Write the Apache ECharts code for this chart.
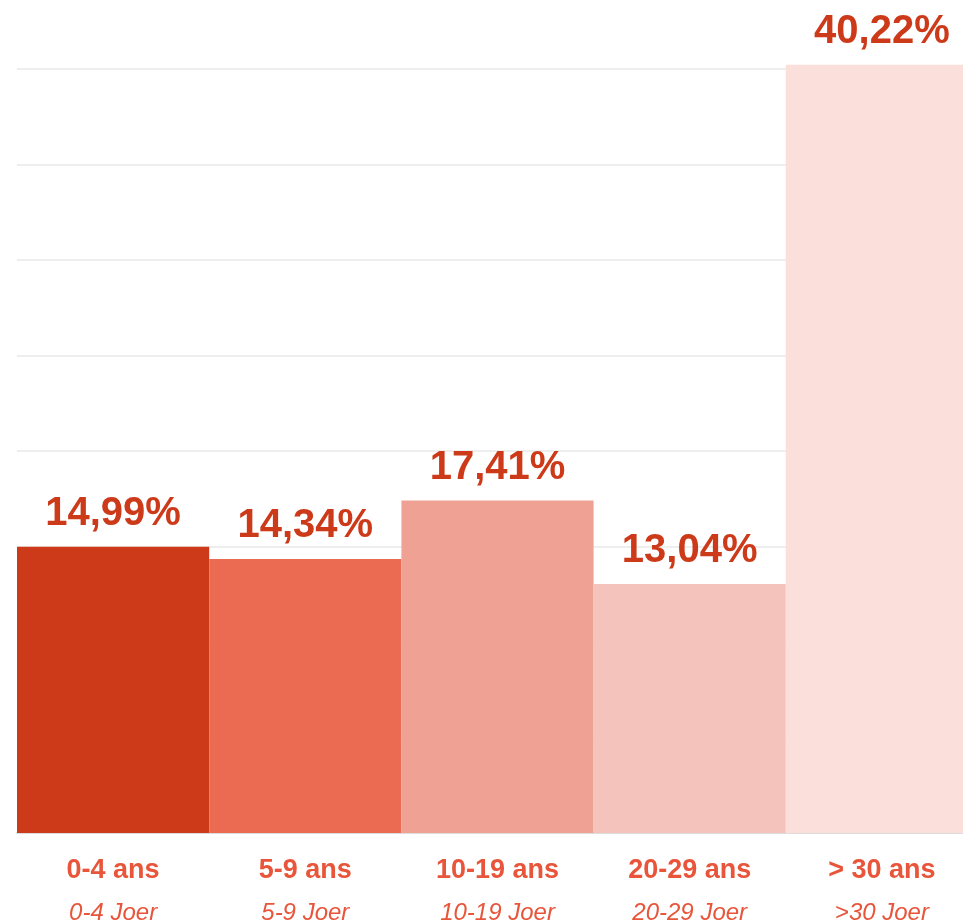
<!DOCTYPE html>
<html>
<head>
<meta charset="utf-8">
<script src="https://cdn.jsdelivr.net/npm/echarts@6/dist/echarts.min.js"></script>
<style>
  html, body { margin: 0; padding: 0; background: #fff; }
  #main { width: 963px; height: 924px; }
</style>
</head>
<body>
<div id="main"></div>
<script>
var categories = ["0-4 ans", "5-9 ans", "10-19 ans", "20-29 ans", "> 30 ans"];
var subLabels = ["0-4 Joer", "5-9 Joer", "10-19 Joer", "20-29 Joer", ">30 Joer"];
var values = [14.99, 14.34, 17.41, 13.04, 40.22];
var barColors = ["#cc3a1a", "#ea6b51", "#efa293", "#f4c3bb", "#fadfdb"];

var myChart = echarts.init(document.getElementById("main"));

myChart.setOption({
  animation: false,
  grid: {
    left: 17,
    top: 69,
    right: -15,
    height: 764,
    outerBoundsMode: "none",
    containLabel: false
  },
  xAxis: {
    type: "category",
    data: categories,
    axisTick: { show: false },
    axisLine: {
      show: true,
      lineStyle: { color: "#dcdcdc", width: 2 }
    },
    axisLabel: {
      interval: 0,
      margin: 16,
      formatter: function (v, i) {
        return "{a|" + v + "}\n{b|" + subLabels[i] + "}";
      },
      rich: {
        a: {
          fontFamily: "Liberation Sans",
          fontWeight: "bold",
          fontSize: 27,
          color: "#e8553a",
          lineHeight: 43
        },
        b: {
          fontFamily: "Liberation Sans",
          fontStyle: "italic",
          fontSize: 24,
          color: "#e8553a",
          lineHeight: 43
        }
      }
    }
  },
  yAxis: {
    type: "value",
    min: 0,
    max: 40,
    interval: 5,
    axisLabel: { show: false },
    axisLine: { show: false },
    axisTick: { show: false },
    splitLine: {
      show: true,
      lineStyle: { color: "#eeeeee", width: 2 }
    }
  },
  series: [
    {
      type: "bar",
      data: values.map(function (v, i) {
        return { value: v, itemStyle: { color: barColors[i] } };
      }),
      barCategoryGap: 0,
      clip: false,
      label: {
        show: true,
        position: "top",
        distance: 13,
        fontFamily: "Liberation Sans",
        fontWeight: "bold",
        fontSize: 40,
        color: "#cc3a1a",
        formatter: function (p) {
          return p.value.toFixed(2).replace(".", ",") + "%";
        }
      }
    }
  ]
});
</script>
</body>
</html>
